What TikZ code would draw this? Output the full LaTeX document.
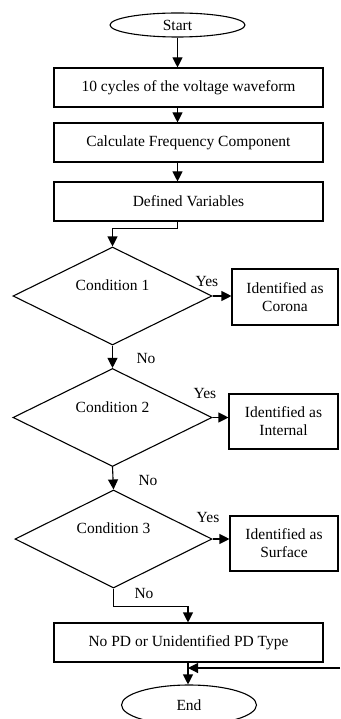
\documentclass[tikz,border=0pt]{standalone}
\usepackage{fontspec}
\setmainfont{Liberation Serif}
\usetikzlibrary{shapes.geometric,arrows.meta}
\tikzset{
  procbox/.style={draw, rectangle, minimum width=269pt, minimum height=39pt, inner sep=0pt},
  idbox/.style={draw, rectangle, minimum height=55pt, inner sep=0pt, align=center},
  termnode/.style={draw, ellipse, minimum width=135pt, inner sep=0pt},
  condnode/.style={draw, diamond, minimum width=199pt, minimum height=98pt, inner sep=0pt},
  flow/.style={-{Triangle[length=10pt,width=10pt]}},
}

\begin{document}
\begin{tikzpicture}[x=1pt, y=-1pt, line width=1.1pt, font=\fontsize{15.5}{18}\selectfont]
\useasboundingbox (0,0) rectangle (340,719) ;

\node[termnode, minimum height=24pt] (start) at (177.5,25) {Start} ;
\node[procbox] (cycles) at (188.5,87.5) {10 cycles of the voltage waveform} ;
\node[procbox] (freq) at (188.5,142.5) {Calculate Frequency Component} ;
\node[procbox] (vars) at (188.5,201.5) {Defined Variables} ;

\node[condnode, label={[yshift=11pt]center:Condition 1}] (cond1) at (112.5,296) {} ;
\node[condnode, label={[yshift=10pt]center:Condition 2}] (cond2) at (112.5,417.5) {} ;
\node[condnode, minimum width=197pt, label={[yshift=11pt]center:Condition 3}] (cond3) at (113.5,539) {} ;

\node[idbox, minimum width=106pt, minimum height=56pt] (corona) at (285,297) {Identified as\\Corona} ;
\node[idbox, minimum width=109pt] (internal) at (283.5,421.5) {Identified as\\Internal} ;
\node[idbox, minimum width=108pt] (surface) at (284,543.5) {Identified as\\Surface} ;

\node[procbox] (nopd) at (188.5,642.5) {No PD or Unidentified PD Type} ;
\node[termnode, minimum height=40pt] (end) at (189,705) {End} ;

\node (yes1) at (207,282) {Yes} ;
\node (yes2) at (205,393) {Yes} ;
\node (yes3) at (208,517) {Yes} ;
\node (no1) at (146,358) {No} ;
\node (no2) at (148,480) {No} ;
\node (no3) at (144,593) {No} ;

\coordinate (back) at (340,668) ;
\coordinate (join) at (188,668) ;

\draw[flow] (start.south) -- (start.south |- cycles.north) ;
\draw[flow] (start.south |- cycles.south) -- (start.south |- freq.north) ;
\draw[flow] (start.south |- freq.south) -- (start.south |- vars.north) ;
\draw[flow] (start.south |- vars.south) -- ++(0,7) -| (cond1.north) ;

\draw[flow] (cond1.east) -- (cond1.east -| corona.west) ;
\draw[flow] (cond2.east) -- (cond2.east -| internal.west) ;
\draw[flow] (cond3.east) -- (cond3.east -| surface.west) ;

\draw[flow] (cond1.south) -- (cond2.north) ;
\draw[flow] (cond2.south) -- (cond3.north) ;
\draw[flow] (cond3.south) -- ++(0,18) -| (join |- nopd.north) ;

\draw[flow] (join |- nopd.south) -- (join |- end.north) ;
\draw[flow] (back) -- (join) ;

\end{tikzpicture}
\end{document}
